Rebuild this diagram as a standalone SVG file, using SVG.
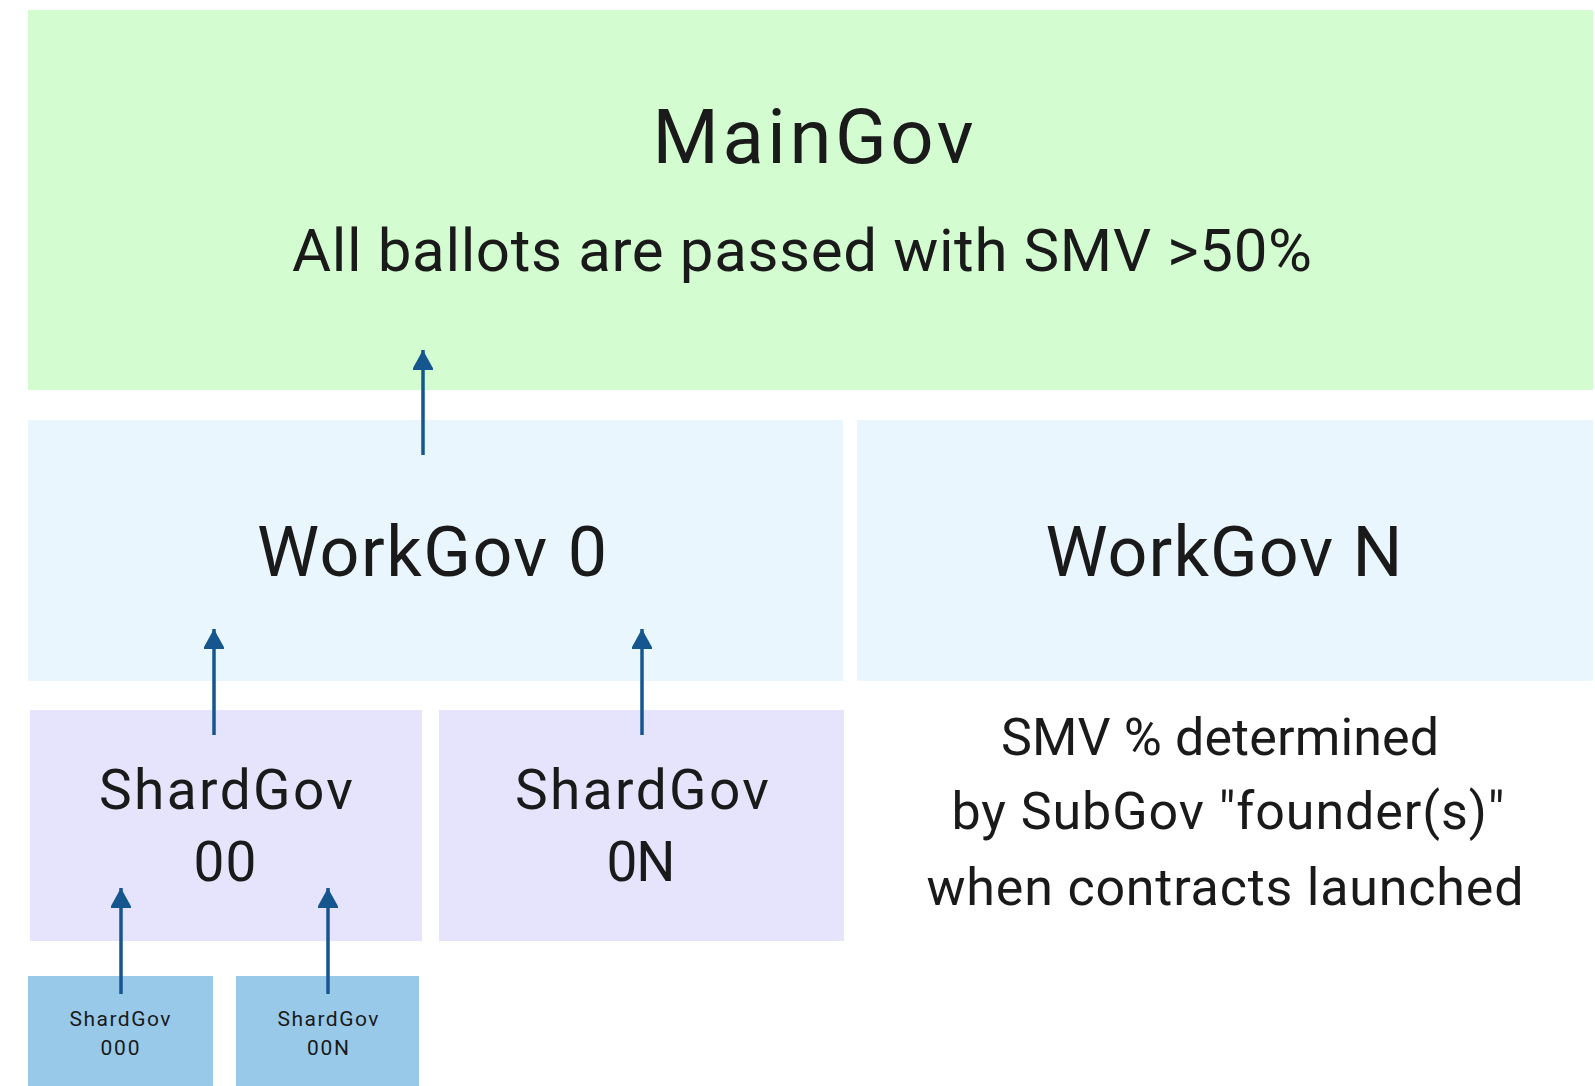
<svg xmlns="http://www.w3.org/2000/svg" width="1595" height="1086" viewBox="0 0 1595 1086">
<style>
text{font-family:Roboto,"Liberation Sans",sans-serif;fill:#1a1a1a;text-anchor:middle}
.green{fill:#d3fdd0}
.work{fill:#e9f6fe}
.shard{fill:#e6e3fd}
.small{fill:#98c9e9}
.conn{stroke:#15568f;stroke-width:3.5;fill:none}
</style>
<defs>
<marker id="ah" markerUnits="userSpaceOnUse" markerWidth="24" markerHeight="20" viewBox="0 0 24 20" refX="20" refY="10" orient="auto">
<path d="M0,0 L20,10 L0,20 Z" fill="#15568f" transform="translate(0,0) scale(1,1.1) translate(0,-1)"/>
</marker>
</defs>
<rect width="1595" height="1086" fill="#ffffff"/>
<g id="maingov">
<rect class="green" x="28" y="10" width="1565" height="380"/>
<text x="813" y="163" font-size="76" textLength="321" lengthAdjust="spacing">MainGov</text>
<text x="802" y="271" font-size="60" textLength="1020" lengthAdjust="spacing">All ballots are passed with SMV &gt;50%</text>
</g>
<g id="workgov0">
<rect class="work" x="28" y="420" width="815" height="261"/>
<text x="432" y="576" font-size="70" textLength="350" lengthAdjust="spacing">WorkGov 0</text>
</g>
<g id="workgovN">
<rect class="work" x="857" y="420" width="736" height="261"/>
<text x="1224" y="576" font-size="70" textLength="357" lengthAdjust="spacing">WorkGov N</text>
</g>
<g id="shardgov00">
<rect class="shard" x="30" y="710" width="392" height="231"/>
<text x="226" y="809" font-size="55" textLength="254" lengthAdjust="spacing">ShardGov</text>
<text x="225" y="881" font-size="55" textLength="63" lengthAdjust="spacing">00</text>
</g>
<g id="shardgov0N">
<rect class="shard" x="439" y="710" width="405" height="231"/>
<text x="642" y="809" font-size="55" textLength="254" lengthAdjust="spacing">ShardGov</text>
<text x="641" y="881" font-size="55" textLength="69" lengthAdjust="spacing">0N</text>
</g>
<g id="shardgov000">
<rect class="small" x="28" y="976" width="185" height="110"/>
<text x="120" y="1026" font-size="21" textLength="101" lengthAdjust="spacing">ShardGov</text>
<text x="120" y="1055" font-size="21" textLength="39" lengthAdjust="spacing">000</text>
</g>
<g id="shardgov00N">
<rect class="small" x="236" y="976" width="183" height="110"/>
<text x="328" y="1026" font-size="21" textLength="101" lengthAdjust="spacing">ShardGov</text>
<text x="328" y="1055" font-size="21" textLength="42" lengthAdjust="spacing">00N</text>
</g>
<g id="note">
<text x="1220" y="755" font-size="52" textLength="438" lengthAdjust="spacing">SMV % determined</text>
<text x="1228" y="829" font-size="52" textLength="553" lengthAdjust="spacing">by SubGov "founder(s)"</text>
<text x="1225" y="905" font-size="52" textLength="597" lengthAdjust="spacing">when contracts launched</text>
</g>
<g id="connectors">
<line class="conn" x1="423" y1="455" x2="423" y2="350" marker-end="url(#ah)"/>
<line class="conn" x1="214" y1="735" x2="214" y2="629" marker-end="url(#ah)"/>
<line class="conn" x1="642" y1="735" x2="642" y2="629" marker-end="url(#ah)"/>
<line class="conn" x1="121" y1="994" x2="121" y2="888" marker-end="url(#ah)"/>
<line class="conn" x1="328" y1="994" x2="328" y2="888" marker-end="url(#ah)"/>
</g>
</svg>
